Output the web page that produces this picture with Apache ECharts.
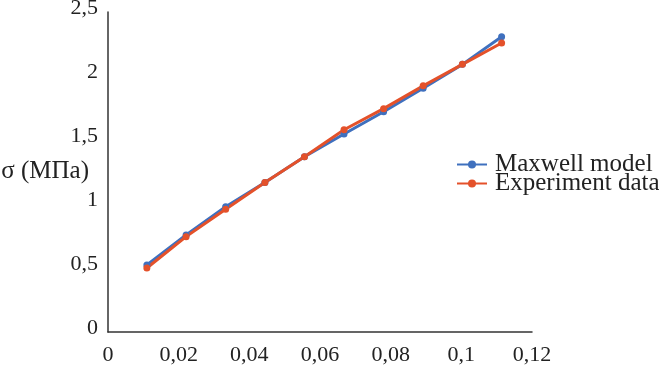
<!DOCTYPE html>
<html>
<head>
<meta charset="utf-8">
<title>σ (MΠa)</title>
<script src="https://cdn.jsdelivr.net/npm/echarts@6/dist/echarts.min.js"></script>
<style>
  html, body { margin: 0; padding: 0; background: #fff; }
  #content { width: 659px; height: 369px; }
</style>
</head>
<body>
<div id="content"></div>
<script>
// strain values (x)
var strain = [0.011, 0.0221, 0.0333, 0.0444, 0.0556, 0.0668, 0.078, 0.0892, 0.1003, 0.1114];
// stress values (y), MPa
var maxwellModel = [0.523, 0.758, 0.979, 1.168, 1.370, 1.547, 1.721, 1.904, 2.091, 2.307];
var experimentData = [0.500, 0.745, 0.959, 1.168, 1.370, 1.580, 1.745, 1.923, 2.091, 2.258];
var seriesNames = ["Maxwell model", "Experiment data"];
var yTitle = "σ (MΠa)";

var blueColor = "#3F70BE";
var redColor = "#E4512A";
var fontName = "Liberation Serif";

function toPairs(xs, ys) {
    var out = [];
    for (var i = 0; i < xs.length; i++) {
        out.push([xs[i], ys[i]]);
    }
    return out;
}

// 逗号作小数点
function commaLabel(v) {
    return String(+v.toFixed(2)).replace(".", ",");
}

var myChart = echarts.init(document.getElementById("content"));

myChart.setOption({
    backgroundColor: "#fff",
    animation: false,
    grid: { left: 108, top: 12, right: 127, bottom: 37, outerBoundsMode: "none" },
    // y轴标题（横排，放在左侧中间）
    graphic: [{
        type: "text",
        right: 659 - 89,
        top: 159,
        style: { text: yTitle, font: "25px " + fontName, fill: "#222" },
    }],
    legend: {
        orient: "vertical",
        left: 451,
        top: 147,
        itemWidth: 30,
        itemHeight: 10,
        itemGap: -6,
        data: seriesNames,
        textStyle: { fontFamily: fontName, fontSize: 25, color: "#222", lineHeight: 19, padding: [0, 0, 0, 3] },
    },
    xAxis: {
        type: "value",
        min: 0,
        max: 0.12,
        interval: 0.02,
        splitLine: { show: false },
        axisTick: { show: false },
        axisLine: { lineStyle: { color: "#333", width: 1.5 } },
        axisLabel: {
            margin: 12,
            fontFamily: fontName,
            fontSize: 22,
            color: "#222",
            formatter: commaLabel,
        },
    },
    yAxis: {
        type: "value",
        min: 0,
        max: 2.5,
        interval: 0.5,
        splitLine: { show: false },
        axisTick: { show: false },
        axisLine: { show: true, lineStyle: { color: "#333", width: 1.5 } },
        axisLabel: {
            margin: 10,
            fontFamily: fontName,
            fontSize: 22,
            color: "#222",
            verticalAlign: "bottom",
            lineHeight: 8,
            formatter: commaLabel,
        },
    },
    series: [{
        name: seriesNames[0],
        type: "line",
        data: toPairs(strain, maxwellModel),
        symbol: "circle",
        symbolSize: 7,
        lineStyle: { color: blueColor, width: 3 },
        itemStyle: { color: blueColor },
    }, {
        name: seriesNames[1],
        type: "line",
        data: toPairs(strain, experimentData),
        symbol: "circle",
        symbolSize: 7,
        lineStyle: { color: redColor, width: 3 },
        itemStyle: { color: redColor },
    }],
});
</script>
</body>
</html>
